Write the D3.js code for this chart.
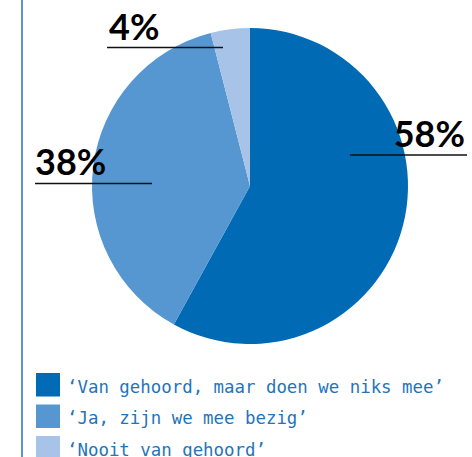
<!DOCTYPE html>
<html>
<head>
<meta charset="utf-8">
<script src="https://cdn.jsdelivr.net/npm/d3@7"></script>
<style>
  html, body { margin: 0; padding: 0; background: #fff; }
  svg { display: block; }
</style>
</head>
<body>
<script>
// Survey answers and their shares (percent)
const categories = [
  "‘Van gehoord, maar doen we niks mee’",
  "‘Ja, zijn we mee bezig’",
  "‘Nooit van gehoord’"
];
const values = [58, 38, 4];
const labels = ["58%", "38%", "4%"];
const colors = ["#006ab4", "#5697d2", "#a7c3e7"];

const W = 472, H = 457;
const cx = 250, cy = 186, R = 158;

const svg = d3.select("body").append("svg")
  .attr("width", W).attr("height", H);

// Vertical rule on the left
svg.append("line")
  .attr("x1", 22).attr("x2", 22).attr("y1", 0).attr("y2", H)
  .attr("stroke", "#5697d2").attr("stroke-width", 2);

const pie = d3.pie().sort(null).value(d => d);
const arcs = pie(values);
const arc = d3.arc().innerRadius(0).outerRadius(R);

const g = svg.append("g").attr("transform", `translate(${cx},${cy})`);
g.selectAll("path").data(arcs).enter().append("path")
  .attr("d", arc)
  .attr("fill", (d, i) => colors[i]);

// Percentage callouts: text sitting on an underline
const callouts = [
  { i: 0, tx: 465, ty: 147, anchor: "end", x1: 350, x2: 467, ly: 155 },
  { i: 1, tx: 35, ty: 175, anchor: "start", x1: 35, x2: 152, ly: 183.5 },
  { i: 2, tx: 109, ty: 40, anchor: "start", x1: 107, x2: 223, ly: 47.5 }
];
const cg = svg.append("g");
callouts.forEach(c => {
  cg.append("line")
    .attr("x1", c.x1).attr("x2", c.x2).attr("y1", c.ly).attr("y2", c.ly)
    .attr("stroke", "#111").attr("stroke-width", 1.6);
  cg.append("text")
    .attr("x", c.tx).attr("y", c.ty)
    .attr("text-anchor", c.anchor)
    .attr("font-family", "Lato, sans-serif")
    .attr("font-weight", 700)
    .attr("font-size", 36)
    .attr("fill", "#000")
    .text(labels[c.i]);
});

// Legend
const legend = svg.append("g");
categories.forEach((name, i) => {
  const y = 373 + i * 31.5;
  legend.append("rect")
    .attr("x", 36).attr("y", y).attr("width", 24).attr("height", 23.5)
    .attr("fill", colors[i]);
  legend.append("text")
    .attr("x", 67).attr("y", y + 19.5)
    .attr("font-family", "'DejaVu Sans Mono', 'Liberation Mono', monospace")
    .attr("font-size", 17.4)
    .attr("fill", "#1f74ba")
    .text(name);
});
</script>
</body>
</html>
